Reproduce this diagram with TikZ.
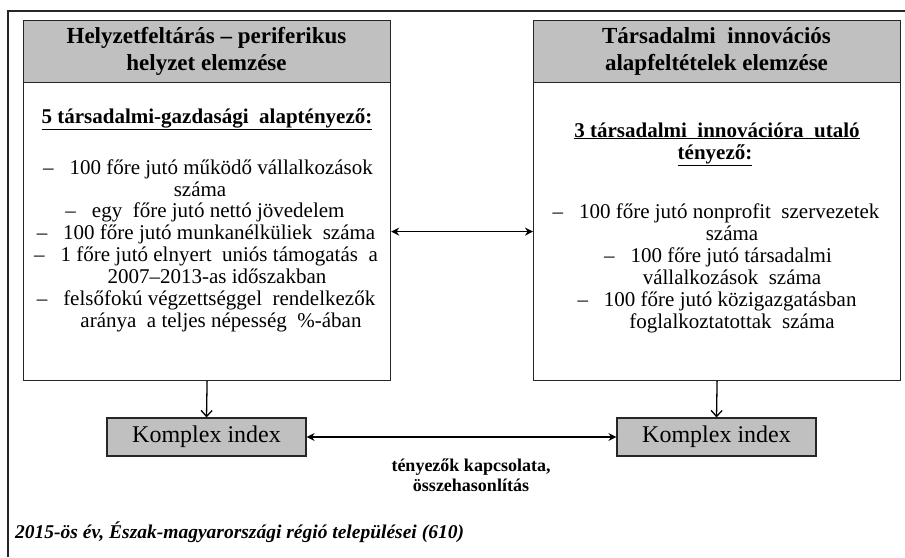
\documentclass[tikz,border=0pt]{standalone}
\usepackage{fontspec}
\setmainfont{Liberation Serif}
\usetikzlibrary{arrows.meta}
\definecolor{hdrgray}{RGB}{192,192,192}
\begin{document}
\begin{tikzpicture}[x=1pt,y=-1pt,
  frame/.style={draw=black!85, line width=1.2pt},
  hdrbox/.style={frame, fill=hdrgray, anchor=north west, minimum width=367pt, minimum height=62pt, inner sep=0pt},
  bodybox/.style={frame, fill=white, anchor=north west, minimum width=367pt, minimum height=298pt, inner sep=0pt},
  hdrtext/.style={font=\fontsize{23pt}{27pt}\selectfont\bfseries, align=center, inner sep=0pt},
  subtext/.style={font=\fontsize{21pt}{22pt}\selectfont\bfseries, anchor=base, inner sep=0pt},
  itemtext/.style={font=\fontsize{21pt}{22pt}\selectfont, anchor=base, inner sep=0pt},
  idxbox/.style={frame, fill=hdrgray, minimum width=199pt, minimum height=38pt, inner sep=0pt, font=\fontsize{24pt}{26pt}\selectfont},
  dblarrow/.style={line width=1.3pt, {Stealth[length=8pt,width=8pt]}-{Stealth[length=8pt,width=8pt]}},
  downarrow/.style={line width=1.3pt, -{Straight Barb[length=6pt,width=11pt,line width=1.3pt]}},
]
\useasboundingbox (0,0) rectangle (905,557);
% outer frame (top and left edges visible)
\coordinate (frBL) at (8,557);
\coordinate (frTL) at (8,11);
\coordinate (frTR) at (905,11);
\draw[line width=1.1pt, black!85] (frBL) -- (frTL) -- (frTR);

% left box
\node[bodybox] (Lbody) at (23,82) {};
\node[hdrbox] (Lhead) at (23,20) {};
\node[hdrtext] (LhT) at (206.5,51) {Helyzetfeltárás – periferikus\\helyzet elemzése};
\node[subtext] (Lsub) at (207,123) {\underline{5 társadalmi-gazdasági\ \ alaptényező:}};
\node[itemtext] (L1) at (208,174) {–\hspace{16pt}100 főre jutó működő vállalkozások};
\node[itemtext] (L2) at (200,196) {száma};
\node[itemtext] (L3) at (205,217) {–\hspace{16pt}egy\ \ főre jutó nettó jövedelem};
\node[itemtext] (L4) at (206,239) {–\hspace{16pt}100 főre jutó munkanélküliek\ \ száma};
\node[itemtext] (L5) at (206,261) {–\hspace{16pt}1 főre jutó elnyert\ \ uniós támogatás\ \ a};
\node[itemtext] (L6) at (217,283) {2007–2013-as időszakban};
\node[itemtext] (L7) at (206,305) {–\hspace{16pt}felsőfokú végzettséggel\ \ rendelkezők};
\node[itemtext] (L8) at (221,327) {aránya\ \ a teljes népesség\ \ \%-ában};

% right box
\node[bodybox] (Rbody) at (533,82) {};
\node[hdrbox] (Rhead) at (533,20) {};
\node[hdrtext] (RhT) at (716.5,51) {Társadalmi\ \ innovációs\\alapfeltételek elemzése};
\node[subtext] (Rsub1) at (717,137) {\underline{3 társadalmi\ \ innovációra\ \ utaló}};
\node[subtext] (Rsub2) at (715,159) {\underline{tényező:}};
\node[itemtext] (R1) at (716,218) {–\hspace{16pt}100 főre jutó nonprofit\ \ szervezetek};
\node[itemtext] (R2) at (732,240) {száma};
\node[itemtext] (R3) at (718,262) {–\hspace{16pt}100 főre jutó társadalmi};
\node[itemtext] (R4) at (732,284) {vállalkozások\ \ száma};
\node[itemtext] (R5) at (717,306) {–\hspace{16pt}100 főre jutó közigazgatásban};
\node[itemtext] (R6) at (732,328) {foglalkoztatottak\ \ száma};

% index boxes
\node[idxbox] (Lidx) at (206.5,437) {Komplex index};
\node[idxbox] (Ridx) at (716.5,437) {Komplex index};

% connectors
\draw[dblarrow] (Lbody) -- (Rbody);
\draw[downarrow] (Lbody.south) -- (Lidx.north);
\draw[downarrow] (Rbody.south) -- (Ridx.north);
\draw[dblarrow] (Lidx) -- (Ridx);

% labels
\node[font=\fontsize{18pt}{20pt}\selectfont\bfseries, align=center, inner sep=0pt] (lbl) at (471,475) {tényezők kapcsolata,\\összehasonlítás};
\node[font=\fontsize{19.5pt}{22pt}\selectfont\bfseries\itshape, anchor=base west, inner sep=0pt] (cap) at (15,538) {2015-ös év, Észak-magyarországi régió települései (610)};
\end{tikzpicture}
\end{document}
